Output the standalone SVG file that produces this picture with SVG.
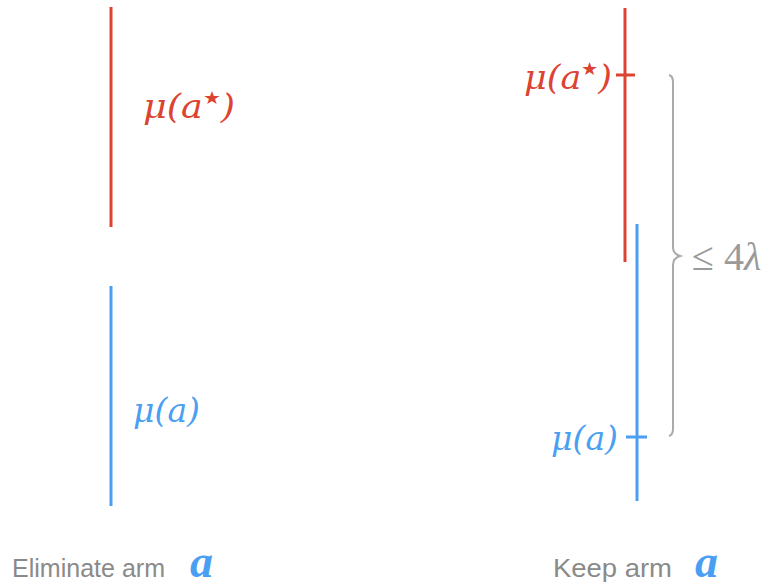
<svg xmlns="http://www.w3.org/2000/svg" width="766" height="586" viewBox="0 0 766 586">
<style>
.red{stroke:#dc4332;stroke-width:3;fill:none}
.blue{stroke:#4b9ff3;stroke-width:3;fill:none}
.mr{fill:#dc4332;font-family:"DejaVu Serif","Liberation Serif",serif;font-style:italic;font-size:33px}
.mb{fill:#4b9ff3;font-family:"DejaVu Serif","Liberation Serif",serif;font-style:italic;font-size:33px}
.st{font-size:18px;font-style:normal}
.cap{fill:#8a8a8a;font-family:"Liberation Sans",Arial,sans-serif;font-size:26px}
.va{fill:#4b9ff3;font-family:"Liberation Serif","DejaVu Serif",serif;font-style:italic;font-weight:bold;font-size:46px}
.gray{fill:#9a9a9a;font-family:"Liberation Serif","DejaVu Serif",serif;font-size:40px}
</style>
<rect width="766" height="586" fill="#fff"/>
<g id="left-best">
<line class="red" x1="111" y1="7" x2="111" y2="227"/>
<text class="mr" x="143" y="118" textLength="92" lengthAdjust="spacingAndGlyphs">μ(a<tspan class="st" dy="-14">★</tspan><tspan dy="14">)</tspan></text>
</g>
<g id="left-arm">
<line class="blue" x1="111" y1="286" x2="111" y2="506"/>
<text class="mb" x="133" y="422" textLength="67" lengthAdjust="spacingAndGlyphs">μ(a)</text>
</g>
<g id="left-caption">
<text class="cap" x="12" y="577" textLength="153" lengthAdjust="spacingAndGlyphs">Eliminate arm</text>
<text class="va" x="190" y="577">a</text>
</g>
<g id="right-best">
<line class="red" x1="625" y1="8" x2="625" y2="262"/>
<line class="red" x1="616" y1="75" x2="635" y2="75"/>
<text class="mr" x="524" y="89" textLength="88" lengthAdjust="spacingAndGlyphs">μ(a<tspan class="st" dy="-14">★</tspan><tspan dy="14">)</tspan></text>
</g>
<g id="right-arm">
<line class="blue" x1="637" y1="224" x2="637" y2="501"/>
<line class="blue" x1="626" y1="437" x2="647" y2="437"/>
<text class="mb" x="551" y="450" textLength="67" lengthAdjust="spacingAndGlyphs">μ(a)</text>
</g>
<g id="brace">
<path d="M669 75 Q673 76 673 82 L673 247 Q673 254 680 256 Q673 258 673 265 L673 429 Q673 435 669 436" fill="none" stroke="#aaaaaa" stroke-width="2"/>
<text class="gray" x="692" y="270">≤ 4<tspan font-style="italic">λ</tspan></text>
</g>
<g id="right-caption">
<text class="cap" x="553" y="577" textLength="119" lengthAdjust="spacingAndGlyphs">Keep arm</text>
<text class="va" x="695" y="577">a</text>
</g>
<g id="connectors"></g>
</svg>
